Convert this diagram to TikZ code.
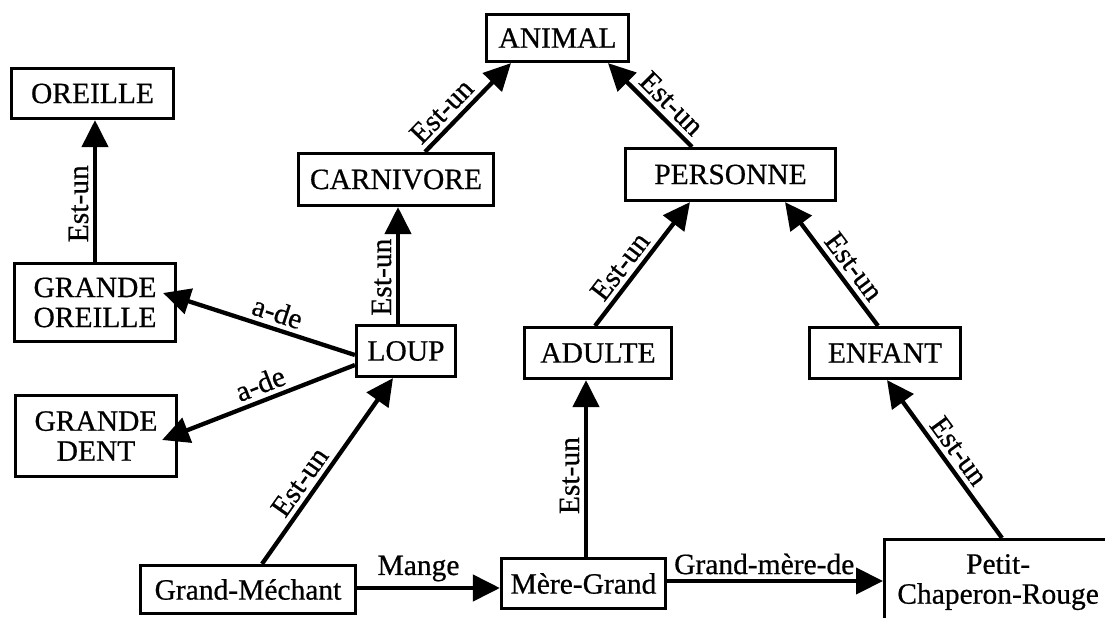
\documentclass[tikz,border=0pt]{standalone}
\usepackage{fontspec}
\setmainfont{Liberation Serif}[FakeBold=0.6]
\usetikzlibrary{arrows.meta}
\newcommand\diagfont{\fontsize{29.5}{30}\selectfont}
\begin{document}
\begin{tikzpicture}[x=1pt,y=-1pt,
  box/.style={draw, line width=3.2pt, inner sep=0pt, align=center, font=\diagfont},
  isa/.style={line width=4.3pt, -{Triangle[length=27pt,width=26pt]}},
  tag/.style={font=\diagfont, sloped, above, inner sep=4.5pt, pos=#1},
]
\useasboundingbox (0,0) rectangle (1105,618);
\clip (0,0) rectangle (1105,618);

% concept boxes
\node[box, minimum width=142pt, minimum height=47pt] (animal) at (557.5,38)   {ANIMAL};
\node[box, minimum width=162pt, minimum height=50pt] (ore)    at (92.5,93.5)  {OREILLE};
\node[box, minimum width=195pt, minimum height=52pt] (carn)   at (396,179.5)  {CARNIVORE};
\node[box, minimum width=210pt, minimum height=52pt] (pers)   at (730.5,174.5){PERSONNE};
\node[box, minimum width=161pt, minimum height=78pt] (gor)    at (95,302.5)   {GRANDE\\OREILLE};
\node[box, minimum width=99pt,  minimum height=51pt] (loup)   at (406,351)    {LOUP};
\node[box, minimum width=147pt, minimum height=51pt] (adulte) at (598,353)    {ADULTE};
\node[box, minimum width=151pt, minimum height=51pt] (enfant) at (885,353)    {ENFANT};
\node[box, minimum width=161pt, minimum height=81pt] (gd)     at (96,436)     {GRANDE\\DENT};
\node[box, minimum width=215pt, minimum height=48pt] (gm)     at (248,589.5)  {Grand-Méchant};
\node[box, minimum width=164pt, minimum height=50pt] (mg)     at (583.5,583.5){Mère-Grand};
\node[box, anchor=north west, minimum width=227pt, minimum height=85pt] (pcr) at (883,538)
  {Petit-\\Chaperon-Rouge};

% Est-un links
\draw[isa] (gor.north) -- (gor.north |- ore.south) node[tag=0.41]{Est-un};
\draw[isa] ([xshift=29pt]carn.north) -- ([xshift=-46.5pt]animal.south) node[tag=0.33]{Est-un};
\draw[isa] ([xshift=-38.5pt]pers.north) -- ([xshift=50.5pt]animal.south) node[tag=0.38]{Est-un};
\draw[isa] ([xshift=-8pt]loup.north) -- ([xshift=-8pt]loup.north |- carn.south) node[tag=0.40]{Est-un};
\draw[isa] ([xshift=-3pt]adulte.north) -- ([xshift=-40.5pt]pers.south) node[tag=0.40]{Est-un};
\draw[isa] ([xshift=-7pt]enfant.north) -- ([xshift=54.5pt]pers.south) node[tag=0.40]{Est-un};
\draw[isa] ([xshift=119pt]pcr.north west) -- ([xshift=2pt]enfant.south) node[tag=0.49]{Est-un};
\draw[isa] ([xshift=14pt]gm.north) -- ([xshift=-13pt]loup.south) node[tag=0.39]{Est-un};
\draw[isa] ([xshift=2.5pt]mg.north) -- ([xshift=2.5pt]mg.north |- adulte.south) node[tag=0.46]{Est-un};

% a-de links
\draw[isa] ([yshift=-4pt]loup.west) -- ([xshift=-14pt,yshift=9.5pt]gor.east) node[tag=0.43]{a-de};
\draw[isa] ([yshift=-14pt]loup.west) -- ([xshift=-16pt,yshift=-4pt]gd.east) node[tag=0.46]{a-de};

% horizontal relations
\draw[isa] ([yshift=1.5pt]gm.east) -- ([yshift=1.5pt]gm.east -| mg.west) node[tag=0.43]{Mange};
\draw[isa] ([yshift=2.5pt]mg.east) -- ([yshift=2.5pt]mg.east -| pcr.west) node[tag=0.45]{Grand-mère-de};
\end{tikzpicture}
\end{document}
